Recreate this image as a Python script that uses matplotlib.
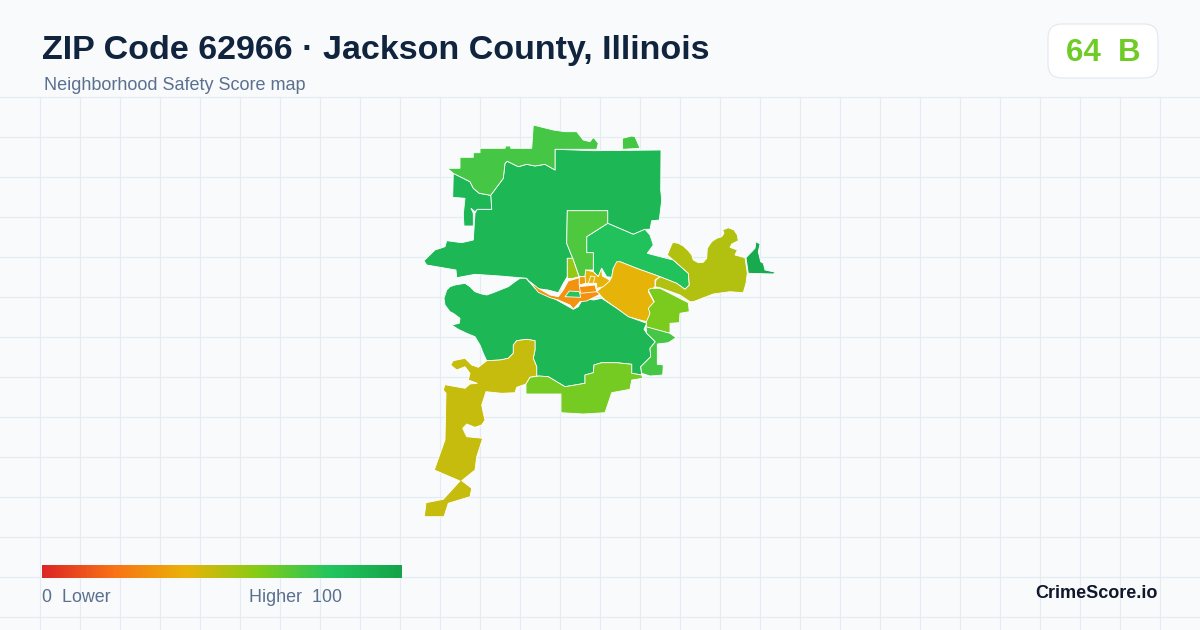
import matplotlib
matplotlib.use("Agg")
import matplotlib.pyplot as plt
import numpy as np
from matplotlib.colors import LinearSegmentedColormap
from matplotlib.patches import FancyBboxPatch, Polygon

plt.rcParams['font.family'] = ['Liberation Sans', 'DejaVu Sans']

title = "ZIP Code 62966 · Jackson County, Illinois"
subtitle = "Neighborhood Safety Score map"
badge_score = 64
badge_grade = "B"

# legend ramp
ramp_stops = [0, 0.2, 0.4, 0.6, 0.8, 1]
ramp_colors = ['#dc2626', '#f97316', '#eab308', '#84cc16', '#22c55e', '#16a34a']

# tract outlines (pixel space of the 1200x630 map)
north = [(533.3,125),(540,126.7),(553.3,130),(565,131.7),(576.7,131.7),(583.3,140),(590,141.7),(593.3,137.3),(598.3,143.3),(596.7,149.3),(555,149.3),(555,170),(545,164.3),(535,166),(526.7,164.3),(518.3,166.7),(507.3,161.3),(505,163.3),(503.3,178.3),(490.7,195.3),(479.3,193.3),(473.3,188.3),(470,181.7),(453.3,173.3),(447.3,168.3),(460,168.3),(460,157.3),(473.3,157.3),(473.3,152.7),(480,152.7),(480,148.3),(505,148.3),(506,146),(510.7,146),(510.7,148.3),(531.7,148.3)]
north_blob = [(622.3,138.3),(631.7,136),(635,136.7),(640,148.3),(622.7,149.3)]
main_north = [(555,149.3),(593,150.7),(661,150),(660.7,190),(661.7,200),(659.3,220),(651.7,220.7),(650,229.3),(645,229.3),(633.3,234.3),(607.7,223.3),(607.7,210.7),(567.3,210.7),(566.7,243.3),(572.7,258.3),(567.3,258.3),(567.3,276.7),(563.3,283.3),(558.3,292.7),(548,290),(535,288.3),(526.7,278.3),(500,276),(475,274.3),(456.7,277.7),(456,270),(426.7,265),(424,260.7),(435,250),(445,246.7),(446.7,240.7),(461.7,242.7),(473.3,240),(475,213.3),(477.3,209.3),(491.7,209.3),(490.7,195.3),(503.3,178.3),(505,163.3),(507.3,161.3),(518.3,166.7),(526.7,164.3),(535,166),(545,164.3),(555,170)]
west = [(453.3,173.3),(470,181.7),(473.3,188.3),(479.3,193.3),(490.7,195.3),(491.7,209.3),(477.3,209.3),(475,211.7),(471,208.3),(473.3,213.3),(473.3,226),(464,226),(463.3,214.3),(465,198.3),(452.7,197.3)]
center_east = [(586.7,236.7),(607.7,223.3),(633.3,234.3),(645,229.3),(650,235),(653.3,245),(647.3,253.3),(660,256.7),(673.3,260),(688.3,273.3),(689.3,285),(685,289.3),(676.7,283.3),(660,276.7),(636.7,268.3),(620,261.7),(613.3,268.3),(611.7,277.3),(606.7,276.7),(601.7,268.3),(598.3,276.7),(593.3,271.7),(593.3,252.7),(586.7,252.7)]
center_north = [(567.3,210.7),(607.7,210.7),(607.7,223.3),(586.7,236.7),(586.7,252.7),(593.3,252.7),(593.3,270),(585.7,270),(585,276.7),(579.3,276.7),(572.7,258.3),(566.7,243.3)]
wedge = [(567.3,258.3),(572.7,258.3),(579,276.7),(571.7,278.7),(567.3,278.3)]
east_town = [(616.7,261.7),(620,261.7),(636.7,268.3),(660,276.7),(655,280),(655,286.7),(648.3,291.7),(654.3,302.7),(650,308.3),(650,316.7),(646.7,321.7),(640,320),(628.3,316.7),(616.7,308.3),(605,300),(596.7,291.7),(610,280),(611.7,277.3),(613.3,268.3)]
east_wide = [(667.3,255),(670,248.3),(672.7,242.3),(678.3,243.3),(683.3,246),(688.3,250.7),(691.7,255),(693.3,260),(698.3,262.7),(703.3,262.3),(706.7,258.3),(707.3,248.3),(711.7,241.7),(716.7,238.3),(721.7,236.7),(724,233.3),(722.7,230),(728.3,227.7),(734,230),(737.3,235),(738.3,240.7),(731.7,244),(730,247.3),(737.3,250),(735,255),(745,257.7),(747.3,273.3),(746,283.3),(743.3,292.7),(730,291.7),(713.3,294),(693.3,301.7),(690,301.7),(680,295),(660,287.7),(655,286.7),(656,280),(660,276.7),(676.7,283.3),(685,289.3),(689.3,285),(688.3,273.3),(673.3,260)]
far_east = [(746,257.7),(755,248.3),(756,241.7),(760,244),(758.3,251.7),(760.7,261.7),(763.3,263.3),(765,270),(775.7,272.3),(773.3,274),(748.3,273.3)]
south_east = [(650.7,288.3),(660,288.3),(688.3,302.7),(689.3,311.7),(680,313.3),(679.3,322.7),(670,323.3),(670,333.3),(646.7,327.3),(646,322.7),(650,313.3),(648.3,308.3),(654.3,301.7),(648.3,290)]
main_south = [(526,278.3),(535,288.3),(546.7,295),(556.7,300),(573.3,309.3),(578.3,306.7),(583.3,298.3),(593.3,300),(601.7,298.3),(616.7,308.3),(628.3,316.7),(646.7,323.3),(644,329.3),(646.7,333.3),(655.3,341.7),(650,348.3),(650.7,356.7),(640.7,366.7),(641.7,375),(631.7,373.3),(631.7,364.3),(616.7,362.7),(601.7,362.7),(594,365),(593.3,372.7),(585,375),(585,383.3),(565,386.7),(556.7,381.7),(548.3,376.7),(536.7,376),(536.7,366.7),(533.3,358.3),(535,350),(535,340.7),(526.7,339.3),(516.7,340.7),(513.3,345),(513.3,353.3),(508.3,358.3),(500,360),(486.7,360.7),(483.3,353.3),(480,345),(475,336.7),(466.7,333.3),(458.3,329.3),(451.7,325),(459.3,323.3),(460,318.3),(453.3,313.3),(450,311.7),(445,305),(444,298.3),(446.7,290),(450,286.7),(455,285),(465,283.3),(470,286.7),(475,291.7),(481.7,294),(486.7,295),(493.3,292.7),(500,290),(508.3,286.7),(515,281.7),(520,278.3)]
southwest = [(516.7,340.7),(526.7,339.3),(535,340.7),(535,350),(533.3,358.3),(536.7,366.7),(536.7,376),(530,377.3),(526,384),(516.7,387.3),(515,392.7),(501.7,393.3),(486,391.7),(481.7,405),(483.3,413.3),(485,420),(481.7,425),(475,427.3),(466.7,424),(462.7,428.3),(466.7,436.7),(482.7,438.3),(476.7,456.7),(475,470),(461.7,480.7),(471.7,488.3),(470,496.7),(448.3,503.3),(444,516.7),(424.3,516.7),(426,502.7),(443.3,499.3),(460,481),(434.3,470),(445,440),(446,393.3),(443.3,390),(445,384.7),(465,388.3),(470,384),(477.3,383.3),(468.3,380),(470,373.3),(465,366.7),(456.7,370),(450.7,365),(453.3,360.7),(465,358.3),(471.7,365),(478.3,367.3),(486.7,360.7),(500,360),(508.3,358.3),(513.3,353.3),(513.3,345)]
south = [(526,384),(530,377.3),(539.3,376),(548.3,376.7),(556.7,381.7),(565,386.7),(585,383.3),(585,375),(593.3,372.7),(594,365),(601.7,362.7),(616.7,362.7),(631.7,364.3),(631.7,373.3),(641.7,375),(642.7,378.3),(631.7,380),(630,389.3),(611.7,392.7),(605,412.7),(583.3,414),(561,412.7),(561,394),(526,394)]
east_strip = [(646,326.7),(670,333.3),(676,337.7),(668.3,342.7),(657.3,344),(657.3,364.3),(663.3,365),(662.7,375),(650,376),(641.7,373.3),(640.7,366.7),(650.7,356.7),(650,348.3),(655.3,341.7),(646.7,333.3)]
river = [(530,281.7),(538.3,288.3),(550,295),(558.3,296.7),(563.3,290),(568.3,281),(579.3,277.7),(580,286.7),(586.7,285.7),(595,285),(596.7,291.7),(600,294.3),(586.7,301),(580,301.7),(573.3,309),(570,305),(558.3,300),(550,297.7),(538.3,292.3)]
river_hole = [(565,296.7),(569.3,291),(579.3,291.7),(580.7,297.3)]
downtown = [(579.3,286.7),(595,285),(596.7,291.7),(580.7,293.3)]
uptown = [(585,276.7),(585.7,270),(593.3,271.7),(598.3,276.7),(601.7,268.3),(602.3,276),(608.3,279.3),(610,280.7),(603.3,286.7),(596.7,288.3),(596.7,283.3),(586.7,283.3),(579.3,285),(579.3,276.7)]
uptown_cell = [(590.7,276),(595,276.7),(593.3,283.3),(588.3,283.3)]
corner_cell = [(579.3,276.7),(585,276.7),(585.7,283.3),(579.3,285)]

tracts = [main_north, west, north, north_blob, center_east, center_north, wedge, east_wide, far_east,
          east_town, south_east, main_south, southwest, south, east_strip, river, river_hole,
          downtown, uptown, uptown_cell, corner_cell]
scores = [88, 88, 73, 73, 82, 71, 57, 51, 96, 41, 62, 88, 47, 63, 73, 30, 80, 30, 41, 41, 33]

ramp = LinearSegmentedColormap.from_list('score', list(zip(ramp_stops, ramp_colors)))

fig = plt.figure(figsize=(12, 6.3), dpi=100, facecolor='#f8fafc')
ax = fig.add_axes([0, 0, 1, 1])
ax.set_xlim(0, 1200)
ax.set_ylim(630, 0)
ax.axis('off')

# background grid starts under the header
for x in range(40, 1200, 40):
    ax.plot([x, x], [97, 630], color='#e4ecf2', lw=0.8, zorder=1)
for y in range(97, 630, 40):
    ax.plot([0, 1200], [y, y], color='#e4ecf2', lw=0.8, zorder=1)

for shape, score in zip(tracts, scores):
    ax.add_patch(Polygon(shape, closed=True, facecolor=ramp(score / 100), edgecolor='#ffffff',
                         lw=0.6, joinstyle='round', zorder=3))

ax.text(42, 50, title, fontsize=24.5, fontweight='bold', color='#10243e', va='center', ha='left')
ax.text(44, 86, subtitle, fontsize=12.95, color='#5b708f', va='center', ha='left')

ax.add_patch(FancyBboxPatch((1062, 38), 82, 26, boxstyle='round,pad=14,rounding_size=14',
                            facecolor='#ffffff', edgecolor='#e2e8f0', lw=0.8, zorder=3))
ax.text(1103, 53, f"{badge_score}  {badge_grade}", fontsize=22.5, fontweight='bold', color='#6fcb26',
        va='center', ha='center', zorder=4)

ax.imshow(np.linspace(0, 1, 360)[None, :], cmap=ramp, vmin=0, vmax=1, extent=(42, 402, 578, 565),
          aspect='auto', zorder=3)
ax.set_xlim(0, 1200)
ax.set_ylim(630, 0)
ax.text(42, 598, "0  Lower", fontsize=12.9, color='#5b708f', va='center', ha='left')
ax.text(249, 598, "Higher  100", fontsize=12.9, color='#5b708f', va='center', ha='left')
ax.text(1158, 594, "CrimeScore.io", fontsize=13, fontweight='bold', color='#0f172a', va='center', ha='right')

fig.savefig('out.png', dpi=100, facecolor=fig.get_facecolor())
